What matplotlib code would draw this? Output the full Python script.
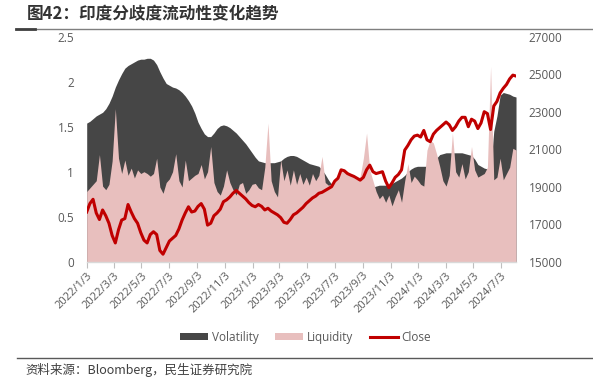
import matplotlib
matplotlib.use("Agg")
import matplotlib.pyplot as plt
import matplotlib.dates as mdates
from matplotlib.patches import Patch
from matplotlib.lines import Line2D
import pandas as pd

plt.rcParams['font.family'] = ['Open Sans', 'Noto Sans CJK SC', 'DejaVu Sans']

title = "图42：印度分歧度流动性变化趋势"
source = "资料来源：Bloomberg，民生证券研究院"

start_date = "2022-01-03"
n_weeks = 136

volatility = [
    1.54, 1.56, 1.59, 1.62, 1.64, 1.66, 1.70, 1.76, 1.84, 1.94,
    2.02, 2.09, 2.15, 2.18, 2.20, 2.22, 2.24, 2.25, 2.25, 2.26,
    2.26, 2.24, 2.19, 2.11, 2.04, 1.98, 1.96, 1.94, 1.93, 1.91,
    1.88, 1.84, 1.79, 1.73, 1.65, 1.55, 1.48, 1.42, 1.39, 1.39,
    1.43, 1.48, 1.51, 1.52, 1.51, 1.49, 1.46, 1.43, 1.39, 1.35,
    1.31, 1.26, 1.21, 1.16, 1.12, 1.11, 1.10, 1.10, 1.10, 1.10,
    1.11, 1.12, 1.15, 1.17, 1.18, 1.18, 1.17, 1.15, 1.13, 1.11,
    1.09, 1.08, 1.07, 1.06, 1.02, 0.97, 0.91, 0.86, 0.85, 0.85,
    0.84, 0.84, 0.84, 0.83, 0.83, 0.83, 0.83, 0.83, 0.83, 0.83,
    0.83, 0.84, 0.85, 0.85, 0.85, 0.86, 0.87, 0.89, 0.91, 0.93,
    0.96, 1.00, 1.03, 1.05, 1.06, 1.06, 1.06, 1.06, 1.07, 1.10,
    1.15, 1.19, 1.20, 1.21, 1.21, 1.21, 1.21, 1.21, 1.21, 1.20,
    1.19, 1.18, 1.14, 1.08, 1.06, 1.04, 1.03, 1.03, 1.45, 1.62,
    1.85, 1.88, 1.87, 1.86, 1.84, 1.83,
]

liquidity = [
    0.78, 0.82, 0.86, 0.90, 1.19, 0.84, 0.80, 0.86, 1.12, 1.70,
    1.15, 0.98, 1.13, 0.96, 1.04, 0.93, 1.02, 0.98, 1.00, 0.98,
    0.95, 0.98, 1.15, 0.83, 0.76, 0.88, 0.92, 1.00, 1.20, 0.90,
    0.83, 1.13, 0.90, 0.93, 0.96, 0.98, 1.08, 0.92, 1.00, 1.28,
    0.88, 0.78, 0.74, 0.84, 1.02, 0.88, 0.80, 0.74, 0.86, 0.88,
    0.76, 0.80, 0.86, 0.87, 0.82, 0.80, 1.05, 1.54, 0.90, 0.78,
    0.72, 1.13, 0.90, 1.02, 0.85, 1.02, 0.86, 0.98, 0.86, 0.94,
    0.85, 0.98, 0.90, 0.96, 1.17, 0.88, 0.85, 0.86, 0.92, 0.96,
    1.01, 1.02, 1.00, 0.97, 0.93, 0.91, 0.95, 1.15, 1.43, 1.02,
    0.90, 0.78, 0.70, 0.74, 0.66, 0.74, 0.62, 0.72, 0.80, 0.66,
    0.90, 1.09, 0.88, 0.95, 0.91, 0.86, 0.84, 1.24, 1.35, 1.32,
    1.20, 1.06, 0.90, 0.84, 0.96, 1.43, 1.00, 0.94, 1.09, 0.92,
    1.00, 1.28, 1.02, 0.94, 0.96, 0.98, 1.05, 2.17, 0.91, 0.94,
    1.15, 0.91, 0.98, 1.05, 1.26, 1.24,
]

close = [
    17650, 18100, 18330, 17600, 17250, 17760, 17450, 17050, 16400, 16000,
    16700, 17220, 17300, 18050, 17650, 17300, 17050, 16550, 16150, 16000,
    16450, 16600, 16450, 15600, 15400, 15750, 16100, 16250, 16400, 16750,
    17220, 17600, 17930, 17650, 17700, 17950, 18100, 17800, 16950, 17050,
    17450, 17600, 17800, 18200, 18300, 18450, 18650, 18800, 18650, 18500,
    18350, 18150, 18000, 17930, 18050, 17950, 17760, 17850, 17700, 17600,
    17500, 17350, 17100, 17050, 17250, 17500, 17600, 17750, 17900, 18100,
    18250, 18400, 18500, 18650, 18700, 18800, 18900, 19000, 19300, 19450,
    19900, 19850, 19700, 19620, 19550, 19450, 19350, 19500, 19900, 20150,
    19800, 19700, 19750, 19800, 19300, 18950, 19200, 19500, 19650, 19900,
    20950, 21200, 21500, 21700, 21750, 21650, 22000, 21500, 21400, 21800,
    22000, 22150, 22300, 22450, 22300, 22000, 22200, 22500, 22700, 22700,
    22200, 22600, 22500, 22100, 22400, 23000, 22900, 22050, 23300, 23550,
    24000, 24250, 24450, 24750, 24950, 24900,
]

x_tick_labels = ["2022/1/3", "2022/3/3", "2022/5/3", "2022/7/3", "2022/9/3",
                 "2022/11/3", "2023/1/3", "2023/3/3", "2023/5/3", "2023/7/3",
                 "2023/9/3", "2023/11/3", "2024/1/3", "2024/3/3", "2024/5/3",
                 "2024/7/3"]
left_ticks = [0, 0.5, 1, 1.5, 2, 2.5]
left_labels = ["0", "0.5", "1", "1.5", "2", "2.5"]
right_ticks = [15000, 17000, 19000, 21000, 23000, 25000, 27000]

dates = pd.date_range(start_date, periods=n_weeks, freq="7D")

VOL_C = "#464646"
LIQ_C = "#E8BFBE"
CLOSE_C = "#C00000"
TXT_C = "#595959"

fig = plt.figure(figsize=(5.93, 3.83), dpi=100)
ax = fig.add_axes([0.1462, 0.3167, 0.724, 0.5875])

ax.fill_between(dates, 0, volatility, color=VOL_C, linewidth=0)
ax.fill_between(dates, 0, liquidity, color=LIQ_C, linewidth=0)
ax.set_ylim(0, 2.5)
ax.set_xlim(dates[0], dates[-1])
ax.set_yticks(left_ticks)
ax.set_yticklabels(left_labels)

ax2 = ax.twinx()
ax2.plot(dates, close, color=CLOSE_C, linewidth=2.2, solid_joinstyle="round")
ax2.set_ylim(15000, 27000)
ax2.set_yticks(right_ticks)
ax2.set_xlim(dates[0], dates[-1])

tick_pos = [pd.Timestamp(s.replace("/", "-")) for s in x_tick_labels]
ax.set_xticks(tick_pos)
ax.set_xticklabels(x_tick_labels, rotation=45, ha="right", rotation_mode="anchor")

for a in (ax, ax2):
    for s in ("top", "left", "right"):
        a.spines[s].set_visible(False)
    a.spines["bottom"].set_visible(False)
ax.spines["bottom"].set_visible(True)
ax.spines["bottom"].set_color("#D9D9D9")
ax.spines["bottom"].set_linewidth(1.0)

ax.tick_params(axis="x", colors="#BFBFBF", labelcolor=TXT_C, length=4, width=0.8,
               labelsize=8, pad=2)
ax.tick_params(axis="y", length=0, labelcolor=TXT_C, labelsize=8.5, pad=9)
ax2.tick_params(axis="y", length=0, labelcolor=TXT_C, labelsize=8.5, pad=9)

handles = [Patch(facecolor=VOL_C, edgecolor="none"),
           Patch(facecolor=LIQ_C, edgecolor="none"),
           Line2D([0], [0], color=CLOSE_C, linewidth=2.2)]
fig.legend(handles, ["Volatility", "Liquidity", "Close"], loc="center",
           bbox_to_anchor=(0.515, 0.12), ncol=3, frameon=False,
           fontsize=8.5, handlelength=2.4, handleheight=0.6,
           handletextpad=0.3, columnspacing=1.4, labelcolor=TXT_C)

fig.text(0.045, 0.963, title, fontsize=12, fontweight="bold", color="#333333",
         va="center", ha="left", family=["Noto Sans CJK SC"])
fig.add_artist(Line2D([0.027, 1.0], [0.923, 0.923], transform=fig.transFigure,
                      color="#7F7F7F", linewidth=1.0))
fig.add_artist(Line2D([0.027, 0.059], [0.923, 0.923], transform=fig.transFigure,
                      color="#404040", linewidth=2.0))
fig.add_artist(Line2D([0.028, 1.0], [0.066, 0.066], transform=fig.transFigure,
                      color="#595959", linewidth=1.0))
fig.text(0.043, 0.034, source, fontsize=9, color="#404040", va="center", ha="left",
         family=["Noto Sans CJK SC", "DejaVu Sans"])

fig.savefig("out.png", dpi=100)
